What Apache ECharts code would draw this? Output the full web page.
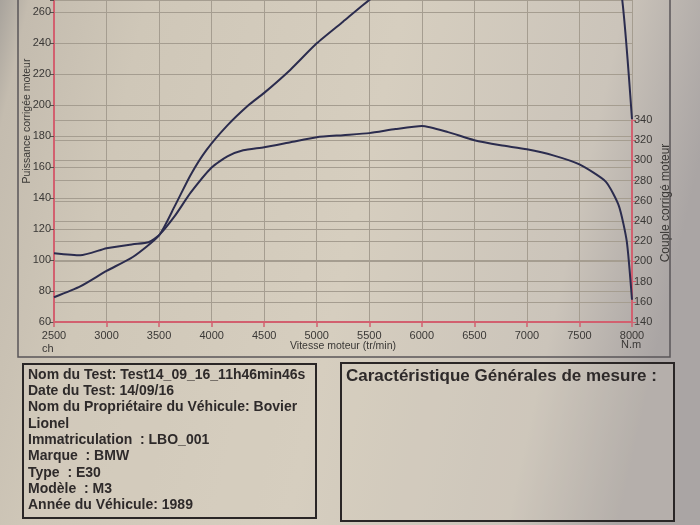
<!DOCTYPE html>
<html>
<head>
<meta charset="utf-8">
<script src="https://cdn.jsdelivr.net/npm/echarts@6/dist/echarts.min.js"></script>
<style>html,body{margin:0;padding:0;}#c{width:700px;height:525px;}</style>
</head>
<body>
<div id="c"></div>
<script>
// Power curve (ch, left axis)
var powerRpm = [2500, 2750, 3000, 3250, 3500, 3650, 3800, 3950, 4150, 4350, 4500, 4750, 5000, 5250, 5500, 5750, 6000, 6500, 7000, 7500, 7750, 7900, 8000];
var powerCh  = [76, 83, 93, 102, 116, 135, 155, 171, 187, 200, 208, 223, 240, 254, 268, 280, 290, 305, 318, 322, 315, 272, 191];
// Torque curve (N.m, right axis)
var torqueRpm = [2500, 2750, 3000, 3250, 3400, 3500, 3650, 3800, 4000, 4150, 4300, 4500, 4750, 5000, 5250, 5500, 5750, 6000, 6250, 6500, 6750, 7000, 7250, 7500, 7750, 7875, 7950, 8000];
var torqueNm  = [208, 206, 213, 217, 219, 226, 245, 268, 293, 304, 310, 313, 318, 323, 325, 327, 331, 334, 328, 320, 315, 311, 305, 296, 279, 255, 220, 162];
// Text
var infoLines = [
  'Nom du Test: Test14_09_16_11h46min46s',
  'Date du Test: 14/09/16',
  'Nom du Propriétaire du Véhicule: Bovier',
  'Lionel',
  'Immatriculation  : LBO_001',
  'Marque  : BMW',
  'Type  : E30',
  'Modèle  : M3',
  'Année du Véhicule: 1989'
];
var rightTitle = 'Caractéristique Générales de mesure :';

var chart = echarts.init(document.getElementById('c'));
var lineCol = '#2b2c4e';
var red = '#d2606f';
var gridCol = '#a59d90';
var labCol = '#3a3836';
var font = '"Liberation Sans", Arial, sans-serif';

var graphics = [
  {type:'polyline', shape:{points:[[18,0],[18,357],[670,357],[670,0]]}, style:{stroke:'#5a5658', lineWidth:1.5, fill:null}},
  {type:'rect', shape:{x:23, y:364, width:293, height:154}, style:{stroke:'#2a2626', lineWidth:2, fill:'rgba(214,206,192,0.35)'}},
  {type:'rect', shape:{x:341, y:363, width:333, height:158}, style:{stroke:'#2a2626', lineWidth:2, fill:'rgba(214,206,192,0.25)'}},
  {type:'text', x:346, y:376, style:{text:rightTitle, font:'bold 17px '+font, fill:'#2e2a2a', textVerticalAlign:'middle'}},
  {type:'text', x:27, y:121, rotation:Math.PI/2, style:{text:'Puissance corrigée moteur', font:'10.5px '+font, fill:labCol, textAlign:'center', textVerticalAlign:'middle'}},
  {type:'text', x:666, y:203, rotation:Math.PI/2, style:{text:'Couple corrigé moteur', font:'12px '+font, fill:labCol, textAlign:'center', textVerticalAlign:'middle'}},
  {type:'text', x:343, y:346, style:{text:'Vitesse moteur (tr/min)', font:'10.5px '+font, fill:labCol, textAlign:'center', textVerticalAlign:'middle'}},
  {type:'text', x:42, y:349, style:{text:'ch', font:'11px '+font, fill:labCol, textVerticalAlign:'middle'}},
  {type:'text', x:621, y:345, style:{text:'N.m', font:'11px '+font, fill:labCol, textVerticalAlign:'middle'}}
];
infoLines.forEach(function(t, i){
  graphics.push({type:'text', x:28, y:375 + i*16.3, style:{text:t, font:'bold 14px '+font, fill:'#2e2a2a', textVerticalAlign:'middle'}});
});

var option = {
  animation: false,
  backgroundColor: new echarts.graphic.LinearGradient(0, 0, 1, 0.3, [
    {offset:0, color:'#a8a39c'},
    {offset:0.04, color:'#c4bcaf'},
    {offset:0.2, color:'#cfc7b8'},
    {offset:0.55, color:'#d6cebf'},
    {offset:0.85, color:'#cbc4ba'},
    {offset:1, color:'#aaa5a4'}
  ]),
  grid: [
    {left:54, right:68, top:0, bottom:203},
    {left:54, right:68, top:120, bottom:203}
  ],
  xAxis: [
    {type:'value', gridIndex:0, min:2500, max:8000, interval:500,
     axisLine:{lineStyle:{color:red, width:2}},
     axisTick:{length:5, lineStyle:{color:red, width:1.5}},
     axisLabel:{color:labCol, fontSize:11, fontFamily:font, margin:8, formatter:function(v){return String(v);}},
     splitLine:{lineStyle:{color:gridCol, width:1}}},
    {type:'value', gridIndex:1, min:2500, max:8000, interval:500, show:false, splitLine:{show:false}}
  ],
  yAxis: [
    {type:'value', gridIndex:0, min:60, max:268, interval:20, position:'left',
     axisLine:{show:true, lineStyle:{color:red, width:2}},
     axisTick:{show:true, length:4, lineStyle:{color:'#55504c'}},
     axisLabel:{color:labCol, fontSize:11, fontFamily:font, margin:3,
       formatter:function(v){return v % 20 === 0 ? String(v) : '';}},
     splitLine:{lineStyle:{color:gridCol, width:1}}},
    {type:'value', gridIndex:1, min:140, max:340, interval:20, position:'right',
     axisLine:{show:true, lineStyle:{color:red, width:2}},
     axisTick:{show:true, length:4, lineStyle:{color:red}},
     axisLabel:{color:labCol, fontSize:11, fontFamily:font, margin:2},
     splitLine:{lineStyle:{color:gridCol, width:1}}}
  ],
  series: [
    {type:'line', xAxisIndex:0, yAxisIndex:0, showSymbol:false, smooth:0.2,
     lineStyle:{color:lineCol, width:2}, data: powerRpm.map(function(r,i){return [r, powerCh[i]];}), z:5},
    {type:'line', xAxisIndex:1, yAxisIndex:1, showSymbol:false, smooth:0.2,
     lineStyle:{color:lineCol, width:2}, data: torqueRpm.map(function(r,i){return [r, torqueNm[i]];}), z:5}
  ],
  graphic: graphics
};
chart.setOption(option);
</script>
</body>
</html>
